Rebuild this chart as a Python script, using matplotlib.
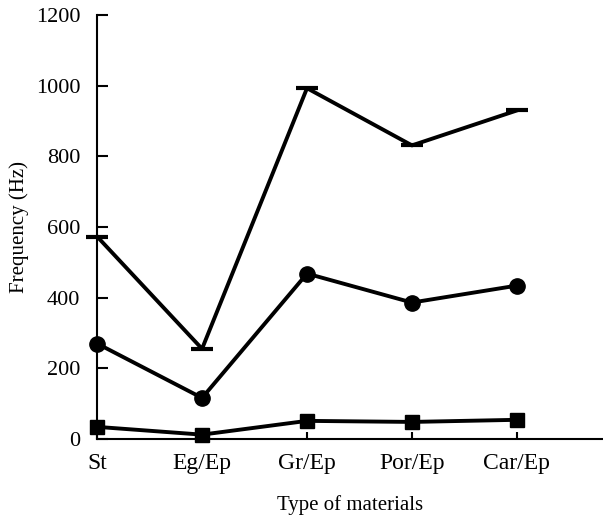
import matplotlib
matplotlib.use("Agg")
import matplotlib.pyplot as plt

categories = ["St", "Eg/Ep", "Gr/Ep", "Por/Ep", "Car/Ep"]
series_dash = [573, 255, 993, 831, 930]
series_circle = [270, 116, 468, 386, 434]
series_square = [34, 12, 51, 48, 54]
yticks = [0, 200, 400, 600, 800, 1000, 1200]

plt.rcParams['font.family'] = ['Liberation Serif', 'DejaVu Serif']

fig = plt.figure(figsize=(6.03, 5.20), dpi=100)
ax = fig.add_axes([0.161, 0.156, 0.839, 0.815])

x = list(range(len(categories)))
lw = 2.8
ax.plot(x, series_dash, color='black', lw=lw, marker='_', ms=16, mew=3, clip_on=False, zorder=3)
ax.plot(x, series_circle, color='black', lw=lw, marker='o', ms=11, clip_on=False, zorder=3)
ax.plot(x, series_square, color='black', lw=lw, marker='s', ms=10, clip_on=False, zorder=3)

ax.set_xlim(0, 4.82)
ax.set_ylim(0, 1200)
ax.set_xticks(x)
ax.set_xticklabels(categories, fontsize=17)
ax.set_yticks(yticks)
ax.set_yticklabels([str(v) for v in yticks], fontsize=16)

for s in ['top', 'right']:
    ax.spines[s].set_visible(False)
for s in ['left', 'bottom']:
    ax.spines[s].set_linewidth(1.5)

ax.tick_params(axis='y', direction='in', length=8, width=1.5, pad=12)
ax.tick_params(axis='x', direction='in', length=5, width=1.5, pad=10)

ax.set_xlabel("Type of materials", fontsize=15, labelpad=15)
ax.set_ylabel("Frequency (Hz)", fontsize=15, labelpad=5)

fig.savefig("out.png", dpi=100)
